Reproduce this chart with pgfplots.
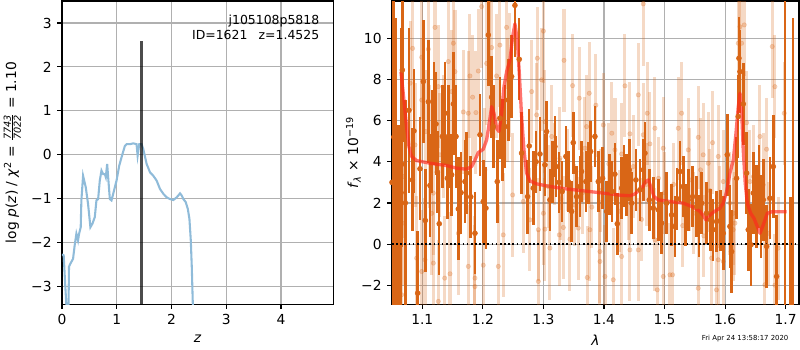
\documentclass[border=0pt]{standalone}
\usepackage{fontspec}
\setmainfont{DejaVu Sans}
\usepackage{amsmath}
\usepackage{pgfplots}
\pgfplotsset{compat=1.18}
\usepackage{pgfplotstable}
\definecolor{dkor}{RGB}{217,102,22}
\definecolor{pzblue}{RGB}{143,187,217}
\definecolor{gridc}{RGB}{176,176,176}
\definecolor{modred}{RGB}{255,40,30}

\pgfplotstableread{
z lp
0.000 -2.27
0.031 -2.29
0.061 -3.01
0.092 -3.69
0.116 -3.76
0.128 -2.55
0.153 -2.48
0.202 -2.37
0.232 -2.06
0.263 -1.80
0.293 -1.95
0.312 -1.80
0.342 -1.65
0.354 -1.04
0.385 -0.48
0.434 -0.74
0.476 -1.12
0.519 -1.65
0.556 -1.57
0.599 -1.42
0.629 -1.04
0.660 -1.01
0.690 -0.59
0.721 -0.36
0.751 -0.44
0.782 -0.44
0.800 -0.51
0.825 -0.21
0.843 -0.51
0.874 -1.01
0.904 -1.04
0.935 -0.89
0.996 -0.59
1.045 -0.25
1.087 -0.06
1.148 0.20
1.179 0.24
1.240 0.24
1.301 0.26
1.362 0.24
1.381 -0.02
1.411 0.24
1.454 0.24
1.484 0.13
1.546 -0.21
1.607 -0.40
1.668 -0.48
1.729 -0.59
1.790 -0.78
1.851 -0.89
1.912 -0.97
1.973 -1.01
2.034 -1.03
2.095 -0.97
2.156 -0.88
2.187 -0.93
2.217 -1.01
2.260 -1.08
2.297 -1.23
2.327 -1.46
2.352 -1.95
2.370 -2.55
2.389 -3.40
2.400 -4.07
}\pzdata

\pgfplotstableread{
x y e
1.0500 3.0 12
1.0530 5.2 9
1.0560 1.0 10
1.0605 -0.2 6
1.0650 2.5 8
1.0670 8.46 3.5
1.0660 3.88 4
1.0720 2.0 5
1.0780 6.5 4
1.0836 3.12 2.5
1.0863 5.50 3.0
1.0924 -2.38 3.0
1.0962 3.66 2.5
1.1017 7.90 3.0
1.1050 1.15 2.5
1.1100 6.92 3.0
1.1127 2.85 2.5
1.1160 5.0 2.5
1.1194 6.33 2.5
1.1227 5.84 2.5
1.1250 3.5 2.0
1.1280 0.99 2.5
1.1331 5.23 2.5
1.1375 6.36 2.5
1.1414 3.20 2.0
1.1430 5.23 2.5
1.1485 3.37 2.0
1.1513 6.81 2.5
1.1557 5.23 2.5
1.1595 1.71 2.5
1.1640 2.5 2.0
1.1705 3.04 2.0
1.1732 3.45 2.0
1.1800 2.3 2.0
1.1870 0.53 2.0
1.1952 5.31 2.0
1.2007 2.07 2.0
1.2051 1.75 2.0
1.2090 10.16 2.5
1.2145 7.14 2.0
1.2172 5.71 2.0
1.2238 3.04 2.0
1.2282 6.12 2.0
1.2326 5.06 2.0
1.2365 5.71 2.0
1.2420 7.0 2.0
1.2475 8.14 2.0
1.2530 11.6 2.5
1.2601 8.98 2.0
1.2640 4.42 2.0
1.2739 2.31 1.8
1.2766 4.77 1.8
1.2833 2.72 1.8
1.2880 4.0 1.5
1.2943 4.38 1.8
1.3026 3.85 1.5
1.3053 5.47 1.5
1.3108 2.15 1.5
1.3150 3.5 1.5
1.3190 4.74 1.5
1.3207 3.77 1.5
1.3260 3.0 1.5
1.3310 2.56 1.5
1.3372 4.26 1.5
1.3411 3.04 1.5
1.3466 1.59 1.5
1.3493 4.93 1.5
1.3548 2.31 1.5
1.3603 2.80 1.5
1.3630 3.53 1.5
1.3702 3.04 1.5
1.3741 3.45 1.5
1.3780 4.50 1.5
1.3851 5.23 1.5
1.3906 3.04 1.5
1.3978 3.20 1.5
1.4044 1.59 1.5
1.4090 2.9 1.5
1.4130 2.56 1.5
1.4180 3.4 1.5
1.4220 0.99 1.5
1.4292 2.72 1.5
1.4330 3.3 1.5
1.4374 2.88 1.5
1.4420 3.6 1.5
1.4457 1.99 1.5
1.4528 3.12 1.5
1.4594 2.64 1.5
1.4649 3.61 1.5
1.4677 4.42 1.5
1.4748 2.15 1.5
1.4814 1.75 1.5
1.4897 1.67 1.5
1.4952 1.02 1.5
1.5035 1.99 1.5
1.5117 1.42 1.5
1.5172 0.86 1.5
1.5210 2.2 1.5
1.5254 3.53 1.5
1.5310 2.80 1.5
1.5350 1.4 1.5
1.5392 2.15 1.5
1.5463 2.31 1.5
1.5530 1.83 1.5
1.5570 0.9 1.5
1.5612 1.99 1.5
1.5694 1.50 1.5
1.5761 1.18 1.5
1.5804 0.70 1.5
1.5859 1.10 1.5
1.5926 1.15 1.5
1.5970 0.53 1.8
1.6036 4.34 2.0
1.6080 0.86 2.0
1.6107 -0.36 2.0
1.6190 3.20 2.0
1.6217 6.20 2.0
1.6229 9.03 2.0
1.6246 8.38 2.0
1.6301 6.81 2.0
1.6356 3.45 2.0
1.6383 0.70 2.0
1.6427 -0.03 2.0
1.6466 2.48 2.0
1.6521 1.83 2.0
1.6560 2.80 2.0
1.6592 1.34 2.0
1.6631 2.15 2.0
1.6686 -0.11 2.0
1.6741 2.23 2.0
1.6796 3.77 2.5
1.6851 -1.57 3.0
1.6990 -5 17
1.7080 -6 8.3
1.7120 -4 15
}\darkdata

\pgfplotstableread{
x y e
1.0687 3.28 3
1.0676 1.02 3
1.0659 -2.46 3
1.0800 7.82 3
1.0840 9.51 3
1.0880 4.82 3
1.0907 -0.68 3
1.0990 9.08 3
1.0990 7.00 3
1.0990 -1.33 3
1.1045 -0.76 3
1.1056 5.47 3
1.1100 9.47 3
1.1127 4.74 3
1.1155 1.50 3
1.1183 2.48 3
1.1183 -0.92 3
1.1210 10.53 3
1.1265 7.65 3
1.1265 -2.78 3
1.1290 4.34 3
1.1348 5.23 3
1.1370 -1.65 3
1.1430 8.87 3
1.1458 -1.44 3
1.1485 7.41 3
1.1513 9.76 3
1.1540 8.38 3
1.1595 0.53 3
1.1677 6.42 3
1.1760 6.36 3
1.1760 -1.08 3
1.1787 8.17 3
1.1831 7.14 3
1.1870 -1.65 3
1.1870 -2.06 3
1.1886 6.39 3
1.1925 8.41 3
1.1980 11.54 3
1.2007 -1.02 3
1.2035 3.61 3
1.2062 8.78 3
1.2117 8.95 3
1.2145 9.55 3
1.2227 8.17 3
1.2255 -1.08 3
1.2282 9.67 3
1.2337 0.45 3
1.2392 10.53 3
1.2403 7.00 3
1.2447 8.22 3
1.2492 2.39 3
1.2667 2.07 2.5
1.2777 1.18 2.5
1.2806 7.41 2.5
1.2888 6.28 2.5
1.2900 9.03 2.5
1.2916 0.70 2.5
1.2916 -1.81 2.5
1.2970 7.98 2.5
1.3000 10.35 2.5
1.3000 1.50 2.5
1.3026 5.95 2.5
1.3026 0.73 2.5
1.3080 2.8 2
1.3108 -0.19 2.5
1.3136 5.23 2.5
1.3180 3.9 2
1.3262 0.45 2.5
1.3273 4.17 2.5
1.3290 2.2 2
1.3330 0.81 2.5
1.3340 8.93 2.5
1.3400 3.6 2
1.3438 0.24 2.5
1.3482 7.70 2.5
1.3520 1.9 2
1.3576 0.78 2.5
1.3592 7.09 2.5
1.3650 2.5 2
1.3686 4.66 2.5
1.3713 5.71 2.5
1.3724 -1.62 2.5
1.3757 7.33 2.5
1.3768 0.70 2.5
1.3800 1.8 2
1.3867 6.75 2.5
1.3933 -0.36 2.5
1.3934 -0.84 2.5
1.3950 2.6 2
1.3989 5.79 2.5
1.4017 -1.57 2.5
1.4080 3.9 2
1.4130 5.39 2.5
1.4154 -1.73 2.5
1.4182 4.58 2.5
1.4250 1.6 2
1.4292 4.38 2.5
1.4292 -0.60 2.5
1.4347 7.69 2.5
1.4400 2.2 2
1.4429 5.36 2.5
1.4429 -0.28 2.5
1.4484 3.77 2.5
1.4567 7.25 2.5
1.4567 -0.28 2.5
1.4620 1.2 2
1.4649 11.67 3
1.4649 5.31 2.5
1.4700 2.9 2
1.4715 6.36 2.5
1.4759 4.87 2.5
1.4842 5.63 2.5
1.4842 0.21 2.5
1.4880 -2.22 2.5
1.4900 3.2 2
1.4979 4.66 2.5
1.4979 -1.57 2.5
1.5000 2.5 2
1.5090 -1.49 2.5
1.5133 -1.49 2.5
1.5150 2.9 2
1.5227 5.63 2.5
1.5282 6.36 2.5
1.5300 0.9 2
1.5392 4.58 2.5
1.5419 3.12 2.5
1.5480 1.5 2
1.5557 5.19 2.5
1.5557 -2.14 2.5
1.5595 3.61 2.5
1.5639 4.34 2.5
1.5650 0.4 2
1.5722 3.93 2.5
1.5750 2.6 2
1.5777 -0.68 2.5
1.5793 4.93 2.5
1.5859 -2.22 2.5
1.5887 4.26 2.5
1.5887 -0.76 2.5
1.5900 1.8 2
1.5970 3.04 2.5
1.5970 -0.84 2.5
1.6080 1.99 2.5
1.6135 1.50 2.5
1.6135 0.70 2.5
1.6163 1.02 2.5
1.6217 9.76 2.5
1.6245 10.56 2.5
1.6273 9.76 2.5
1.6317 10.65 2.5
1.6356 5.90 2.5
1.6411 3.04 2.5
1.6466 3.28 2.5
1.6576 5.23 2.5
1.6631 2.88 2.5
1.6658 -1.97 2.5
1.6686 4.61 2.5
1.6713 0.53 2.5
1.6779 9.60 2.5
1.6823 7.65 2.5
1.6823 -1.99 2.5
1.6878 -0.19 2.5
1.6977 6.36 2.5
}\lightdata

\pgfplotstableread{
x y
1.0648 8.38
1.0697 7.00
1.0740 5.71
1.0780 4.74
1.0824 4.26
1.0906 4.06
1.1127 3.93
1.1400 3.82
1.1567 3.69
1.1730 3.64
1.1815 3.77
1.1870 4.09
1.1925 4.45
1.2007 4.61
1.2062 5.06
1.2106 5.87
1.2145 6.68
1.2183 6.36
1.2227 5.63
1.2266 5.47
1.2310 6.36
1.2349 7.65
1.2393 8.38
1.2448 8.95
1.2492 10.08
1.2530 10.70
1.2569 9.92
1.2602 8.30
1.2640 6.20
1.2679 4.58
1.2723 3.45
1.2778 3.07
1.2888 2.93
1.3053 2.83
1.3328 2.70
1.3659 2.59
1.3990 2.48
1.4264 2.38
1.4429 2.35
1.4512 2.44
1.4622 2.72
1.4694 3.04
1.4733 3.12
1.4771 2.80
1.4826 2.31
1.4897 2.15
1.5090 2.07
1.5310 1.99
1.5475 1.80
1.5585 1.59
1.5640 1.38
1.5684 1.18
1.5723 1.34
1.5805 1.55
1.5916 1.75
1.5970 1.99
1.6026 2.56
1.6080 3.45
1.6136 4.09
1.6180 5.39
1.6218 6.68
1.6246 7.33
1.6273 6.52
1.6300 4.58
1.6333 2.96
1.6367 1.99
1.6422 1.50
1.6477 1.26
1.6532 0.86
1.6576 0.53
1.6631 0.94
1.6697 1.50
1.6769 1.57
1.6879 1.57
1.7017 1.57
}\modeldata

\pgfplotsset{
  mpl/.style={
    scale only axis,
    axis line style={black, line width=0.8pt},
    grid=major,
    major grid style={gridc, line width=0.8pt},
    tick align=outside,
    tick pos=left,
    major tick length=3.5pt,
    every tick/.style={black, line width=0.8pt},
    tick label style={font=\fontsize{10}{12}\selectfont},
    label style={font=\fontsize{10}{12}\selectfont},
    xticklabel style={yshift=-0.5pt},
    yticklabel style={xshift=-0.5pt},
    clip=true,
  }
}

\begin{document}
\begin{tikzpicture}
\path[use as bounding box] (0,0) rectangle (578.16pt,252.95pt);

\begin{axis}[mpl,
  at={(44.8pt,33.2pt)}, anchor=south west,
  width=195.9pt, height=219pt,
  xmin=0, xmax=4.95, ymin=-3.4, ymax=3.5,
  xtick={0,1,2,3,4}, xticklabels={0,1,2,3,4},
  ytick={-3,-2,-1,0,1,2,3},
  yticklabels={−3,−2,−1,0,1,2,3},
  xlabel={\textit{z}},
  ylabel={log \textit{p}(\textit{z}) / \textit{χ}\textsuperscript{2} = $\frac{\text{\textit{7743}}}{\text{\textit{7022}}}$ = 1.10},
  xlabel style={at={(axis description cs:0.5,0)}, anchor=north, yshift=-19pt},
  ylabel style={at={(axis description cs:0,0.5)}, anchor=south, yshift=26pt},
]
\addplot[pzblue, line width=1.5pt] table[x=z,y=lp] {\pzdata};
\addplot[black, opacity=0.7, line width=2.2pt] coordinates {(1.4525,-3.5) (1.4525,2.6)};
\node[anchor=north east, align=right, font=\fontsize{9}{11}\selectfont, inner sep=0pt]
  at (rel axis cs:0.95,0.955) {j105108p5818\\ID=1621\hspace{0.9em}z=1.4525};
\end{axis}

\begin{axis}[mpl,
  at={(283.3pt,33.2pt)}, anchor=south west,
  width=294.1pt, height=219pt,
  xmin=1.05, xmax=1.722, ymin=-2.91, ymax=11.81,
  xtick={1.1,1.2,1.3,1.4,1.5,1.6,1.7},
  xticklabels={1.1,1.2,1.3,1.4,1.5,1.6,1.7},
  ytick={-2,0,2,4,6,8,10},
  yticklabels={−2,0,2,4,6,8,10},
  xlabel={\textit{λ}},
  ylabel={\textit{f}\textsubscript{\textit{λ}} × 10\textsuperscript{−19}},
  xlabel style={at={(axis description cs:0.5,0)}, anchor=north, yshift=-19pt},
  ylabel style={at={(axis description cs:0,0.5)}, anchor=south, yshift=19pt},
]
\addplot[only marks, mark=*, mark size=1.6pt, dkor, opacity=0.25,
  mark options={draw=none, fill=dkor},
  error bars/.cd, y dir=both, y explicit,
  error bar style={line width=2.2pt, dkor, opacity=0.25},
  error mark=none]
  table[x=x, y=y, y error=e] {\lightdata};
\addplot[only marks, mark=*, mark size=1.8pt, dkor,
  mark options={draw=none, fill=dkor},
  error bars/.cd, y dir=both, y explicit,
  error bar style={line width=1.8pt, dkor},
  error mark=none]
  table[x=x, y=y, y error=e] {\darkdata};
\addplot[modred, opacity=0.65, line width=2.4pt, line join=round] table[x=x,y=y] {\modeldata};
\addplot[black, line width=1.2pt, dash pattern=on 1.2pt off 1.8pt] coordinates {(1.05,0) (1.722,0)};
\end{axis}

\node[font=\fontsize{5}{6}\selectfont, anchor=center] at (538.5pt,8.2pt) {Fri Apr 24 13:58:17 2020};
\end{tikzpicture}
\end{document}
